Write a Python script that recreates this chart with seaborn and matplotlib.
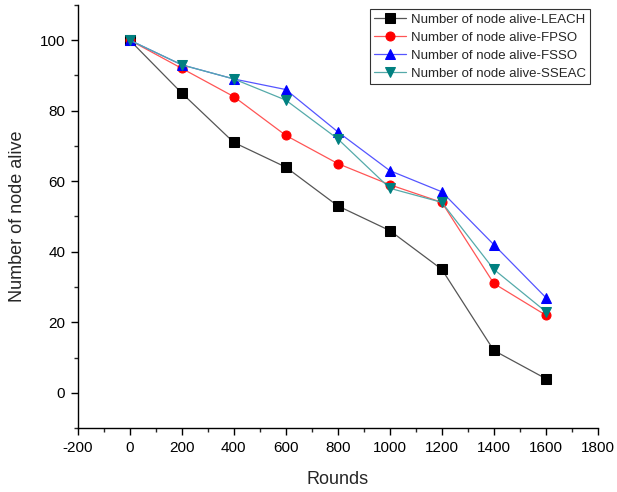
import matplotlib
matplotlib.use("Agg")
import matplotlib.pyplot as plt
import seaborn as sns
import pandas as pd
from matplotlib.ticker import MultipleLocator

rounds = [0, 200, 400, 600, 800, 1000, 1200, 1400, 1600]
leach = [100, 85, 71, 64, 53, 46, 35, 12, 4]
fpso = [100, 92, 84, 73, 65, 59, 54, 31, 22]
fsso = [100, 93, 89, 86, 74, 63, 57, 42, 27]
sseac = [100, 93, 89, 83, 72, 58, 54, 35, 23]

labels = ["Number of node alive-LEACH", "Number of node alive-FPSO",
          "Number of node alive-FSSO", "Number of node alive-SSEAC"]
series = [leach, fpso, fsso, sseac]
line_colors = ["#555555", "#ff5555", "#5555ff", "#55aaaa"]
marker_colors = ["#000000", "#ff0000", "#0000ff", "#008080"]
markers = ["s", "o", "^", "v"]

sns.set_style("white")
plt.rcParams["font.family"] = ["Liberation Sans", "DejaVu Sans"]
plt.rcParams["axes.unicode_minus"] = False

fig = plt.figure(figsize=(6.17, 4.92), dpi=100)
ax = fig.add_axes([0.126, 0.130, 0.843, 0.860])

for lab, vals, lc, mc, mk in zip(labels, series, line_colors, marker_colors, markers):
    df = pd.DataFrame({"Rounds": rounds, "Alive": vals})
    sns.lineplot(data=df, x="Rounds", y="Alive", ax=ax, color=lc, linewidth=0.9,
                 marker=mk, markersize=6.5, markerfacecolor=mc, markeredgecolor=mc,
                 label=lab)

ax.set_xlim(-200, 1800)
ax.set_ylim(-10, 110)
ax.xaxis.set_major_locator(MultipleLocator(200))
ax.xaxis.set_minor_locator(MultipleLocator(100))
ax.yaxis.set_major_locator(MultipleLocator(20))
ax.yaxis.set_minor_locator(MultipleLocator(10))
ax.tick_params(axis="both", which="major", direction="out", length=5, width=1,
               labelsize=11, colors="black", bottom=True, left=True, pad=4)
ax.tick_params(axis="both", which="minor", direction="out", length=3, width=1,
               bottom=True, left=True)
for s in ["top", "right"]:
    ax.spines[s].set_visible(False)
for s in ["left", "bottom"]:
    ax.spines[s].set_color("black")
    ax.spines[s].set_linewidth(1)
ax.set_xlabel("Rounds", fontsize=13, labelpad=12)
ax.set_ylabel("Number of node alive", fontsize=13, labelpad=10)

leg = ax.legend(loc="upper right", fontsize=9.5, frameon=True, fancybox=False,
                borderpad=0.3, labelspacing=0.45, handlelength=2.4,
                handletextpad=0.4, bbox_to_anchor=(0.998, 1.005))
leg.get_frame().set_edgecolor("black")
leg.get_frame().set_linewidth(0.8)

fig.savefig("out.png", dpi=100)
